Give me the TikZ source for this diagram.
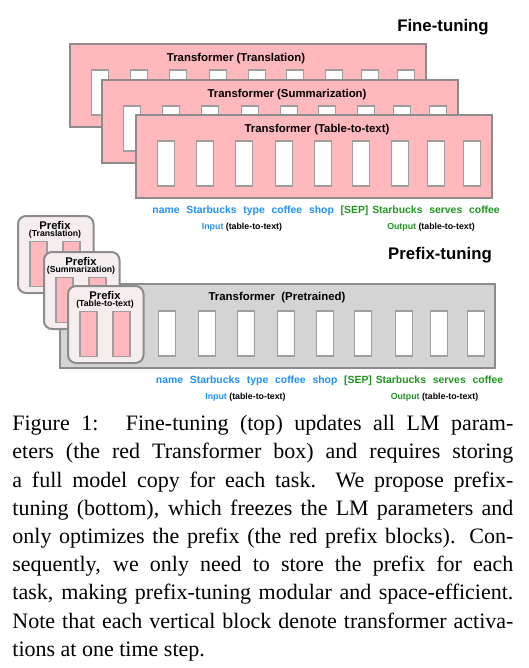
\documentclass[tikz,border=0pt]{standalone}
\usepackage{fontspec}
\setmainfont{Liberation Serif}
\newfontfamily\helv{Liberation Sans}
\usepackage{tikz}
\usetikzlibrary{positioning}
\usepackage{xcolor}

\definecolor{ftpink}{HTML}{FFB8BC}
\definecolor{boxline}{HTML}{8C8C8C}
\definecolor{blockline}{HTML}{9E9E9E}
\definecolor{ptgray}{HTML}{D4D4D4}
\definecolor{prefixbg}{HTML}{F6EEEE}
\definecolor{inblue}{HTML}{1E90FF}
\definecolor{outgreen}{HTML}{1E961E}

\begin{document}
\begin{tikzpicture}[
    x=0.5pt, y=-0.5pt,
    tfbox/.style={rectangle, draw=boxline, line width=0.9pt, anchor=north west, inner sep=0pt, minimum width=178pt, minimum height=41.5pt},
    actblock/.style={rectangle, draw=blockline, line width=0.7pt, fill=white, inner sep=0pt, minimum width=8.5pt, minimum height=22.5pt},
    prefixbox/.style={rectangle, rounded corners=4pt, draw=boxline, line width=1pt, fill=prefixbg, anchor=north west, inner sep=0pt, minimum width=37.75pt, minimum height=38.5pt},
    boxtitle/.style={font=\helv\bfseries\fontsize{5.7}{6.8}\selectfont, inner sep=0pt},
    heading/.style={font=\helv\bfseries\fontsize{8.4}{10}\selectfont, inner sep=0pt},
    word/.style={font=\helv\bfseries\fontsize{5.2}{6.3}\selectfont, inner sep=0pt},
    tag/.style={font=\helv\bfseries\fontsize{4.4}{5.3}\selectfont, inner sep=0pt, anchor=base},
    pftitle/.style={font=\helv\bfseries\fontsize{5.6}{6.7}\selectfont, inner sep=0pt},
    pfsub/.style={font=\helv\bfseries\fontsize{4.35}{5.2}\selectfont, inner sep=0pt}
]
    \useasboundingbox (0,0) rectangle (529,668);

    % Fine-tuning: one full transformer per task
    \node[heading] (ft-head) at (443,27) {Fine-tuning};
    \foreach \k/\bx/\by/\task/\tdx in {1/69/43/Translation/167, 2/101/79/Summarization/186, 3/135/114/Table-to-text/182} {
        \node[tfbox, fill=ftpink] (ft\k) at (\bx,\by) {};
        \node[boxtitle] (ft\k-title) at ([shift={(\tdx,16)}]ft\k.north west) {Transformer (\task)};
        \foreach \dx [count=\i] in {31,70,109,149,188,226,265,301,337}
            \node[actblock] (ft\k-\i) at ([shift={(\dx,49.5)}]ft\k.north west) {};
    }

    % Prefix-tuning: shared pretrained transformer
    \node[heading] (pt-head) at (440,255) {Prefix-tuning};
    \node[tfbox, fill=ptgray, minimum width=217.5pt, minimum height=42pt] (pt) at (59,283) {};
    \node[boxtitle] (pt-title) at (277,298) {Transformer\ \ (Pretrained)};
    \foreach \x [count=\i] in {167,207,246,286,325,363,404,439,476}
        \node[actblock, minimum width=8.75pt] (pt-\i) at (\x,333.5) {};

    % Prefix stack
    \foreach \k/\bx/\by/\task in {1/17/215/Translation, 2/43/251/Summarization, 3/67/285/Table-to-text} {
        \node[prefixbox] (pf\k) at (\bx,\by) {};
        \node[pftitle] (pf\k-title) at ([shift={(38,10)}]pf\k.north west) {Prefix};
        \node[pfsub] (pf\k-sub) at ([shift={(38,19)}]pf\k.north west) {(\task)};
        \foreach \dx [count=\i] in {21.5,54.5}
            \node[actblock, fill=ftpink] (pf\k-\i) at ([shift={(\dx,49)}]pf\k.north west) {};
    }

    % Input / output tokens
    \foreach \r/\wx/\wy in {ft/152/213.5, pt/155.5/383.5} {
        \node[word, text=inblue, anchor=base west] (\r-w1) at (\wx,\wy) {name};
        \node[word, text=inblue, base right=3pt of \r-w1] (\r-w2) {Starbucks};
        \node[word, text=inblue, base right=3pt of \r-w2] (\r-w3) {type};
        \node[word, text=inblue, base right=3pt of \r-w3] (\r-w4) {coffee};
        \node[word, text=inblue, base right=3pt of \r-w4] (\r-w5) {shop};
        \node[word, text=outgreen, base right=3pt of \r-w5] (\r-w6) {[SEP]};
        \node[word, text=outgreen, base right=1.5pt of \r-w6] (\r-w7) {Starbucks};
        \node[word, text=outgreen, base right=3pt of \r-w7] (\r-w8) {serves};
        \node[word, text=outgreen, base right=3pt of \r-w8] (\r-w9) {coffee};
        \node[tag] (\r-in) at ([shift={(90,15.5)}]\r-w1.base west) {\textcolor{inblue}{Input} (table-to-text)};
        \node[tag] (\r-out) at ([shift={(279,15.5)}]\r-w1.base west) {\textcolor{outgreen}{Output} (table-to-text)};
    }

    % Caption
    \node[font=\fontsize{11}{14.1}\selectfont, align=left, anchor=north west, inner sep=0pt] (caption) at (12,415) {%
        \makebox[250.5pt][s]{Figure 1:\hspace{4pt} Fine-tuning (top) updates all LM param-}\\
        \makebox[250.5pt][s]{eters (the red Transformer box) and requires storing}\\
        \makebox[250.5pt][s]{a full model copy for each task.\ \ We propose prefix-}\\
        \makebox[250.5pt][s]{tuning (bottom), which freezes the LM parameters and}\\
        \makebox[250.5pt][s]{only optimizes the prefix (the red prefix blocks). Con-}\\
        \makebox[250.5pt][s]{sequently, we only need to store the prefix for each}\\
        \makebox[250.5pt][s]{task, making prefix-tuning modular and space-efficient.}\\
        \makebox[250.5pt][s]{Note that each vertical block denote transformer activa-}\\
        tions at one time step.};
\end{tikzpicture}
\end{document}
